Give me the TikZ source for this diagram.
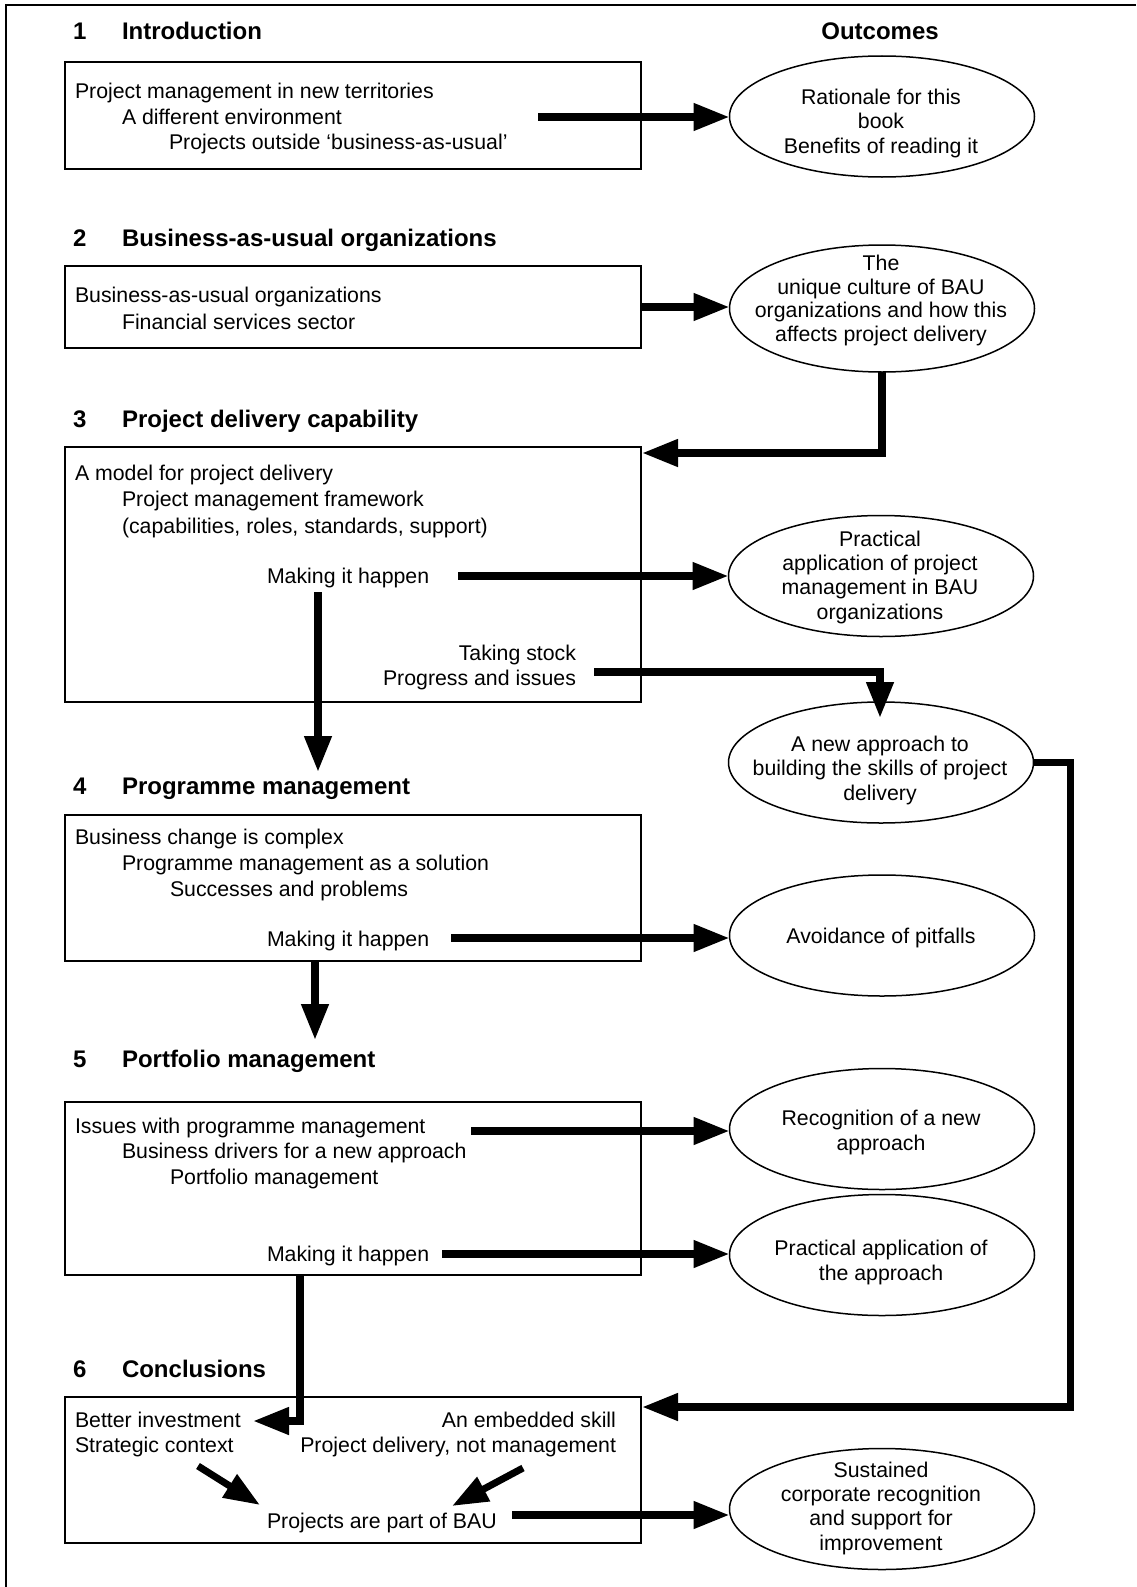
\documentclass[tikz,border=0pt]{standalone}
\usepackage{fontspec}
\setmainfont{Liberation Sans}
\usetikzlibrary{arrows.meta,shapes.geometric}
\begin{document}
\begin{tikzpicture}[x=1pt,y=-1pt,
  every node/.style={inner sep=0pt,outer sep=0pt},
  txt/.style={font=\fontsize{21.3}{25.5}\selectfont,anchor=base west},
  rtxt/.style={font=\fontsize{21.3}{25.5}\selectfont,anchor=base east},
  head/.style={font=\fontsize{24}{28}\selectfont\bfseries,anchor=base west},
  etxt/.style={font=\fontsize{21.3}{24.3}\selectfont,align=center,anchor=base},
  box/.style={draw,line width=1.5pt,minimum width=576pt,anchor=north west},
  ell/.style={draw,ellipse,line width=1.5pt,minimum width=305pt,minimum height=121pt},
  conn/.style={line width=7.5pt,-{Triangle[length=36pt,width=26pt]},line join=miter},
  frame/.style={line width=1.5pt}]
\useasboundingbox (0,0) rectangle (1136,1587);
\draw[frame] (6,1587) -- (6,5) -- (1136,5);

% headings
\node[head] (n1) at (73,40) {1};
\node[head] (h1) at (122,40) {Introduction};
\node[head,anchor=base] (hout) at (880,40) {Outcomes};
\node[head] (n2) at (73,246) {2};
\node[head] (h2) at (122,246) {Business-as-usual organizations};
\node[head] (n3) at (73,427) {3};
\node[head] (h3) at (122,427) {Project delivery capability};
\node[head] (n4) at (73,794) {4};
\node[head] (h4) at (122,794) {Programme management};
\node[head] (n5) at (73,1067) {5};
\node[head] (h5) at (122,1067) {Portfolio management};
\node[head] (n6) at (73,1377) {6};
\node[head] (h6) at (122,1377) {Conclusions};

% boxes
\node[box,minimum height=107pt] (b1) at (65,62) {};
\node[box,minimum height=82pt] (b2) at (65,266) {};
\node[box,minimum height=255pt] (b3) at (65,447) {};
\node[box,minimum height=146pt] (b4) at (65,815) {};
\node[box,minimum height=173pt] (b5) at (65,1102) {};
\node[box,minimum height=146pt] (b6) at (65,1397) {};

% ellipses
\node[ell] (e1) at (882,116.5) {};
\node[ell,minimum height=127pt] (e2) at (882,308.5) {};
\node[ell] (e3) at (881,576) {};
\node[ell] (e4) at (881,762.5) {};
\node[ell] (e5) at (882,935.5) {};
\node[ell] (e6) at (882,1129) {};
\node[ell] (e7) at (882,1255) {};
\node[ell] (e8) at (882,1509) {};

% box texts
\node[txt] (b1a) at (75,98) {Project management in new territories};
\node[txt] (b1b) at (122,124) {A different environment};
\node[txt] (b1c) at (169,149) {Projects outside ‘business-as-usual’};

\node[txt] (b2a) at (75,302) {Business-as-usual organizations};
\node[txt] (b2b) at (122,329) {Financial services sector};

\node[txt] (b3a) at (75,480) {A model for project delivery};
\node[txt] (b3b) at (122,506) {Project management framework};
\node[txt] (b3c) at (122,533) {(capabilities, roles, standards, support)};
\node[txt] (b3m) at (267,583) {Making it happen};
\node[rtxt] (b3t) at (576,660) {Taking stock};
\node[rtxt] (b3p) at (576,685) {Progress and issues};

\node[txt] (b4a) at (75,844) {Business change is complex};
\node[txt] (b4b) at (122,870) {Programme management as a solution};
\node[txt] (b4c) at (170,896) {Successes and problems};
\node[txt] (b4m) at (267,946) {Making it happen};

\node[txt] (b5a) at (75,1133) {Issues with programme management};
\node[txt] (b5b) at (122,1158) {Business drivers for a new approach};
\node[txt] (b5c) at (170,1184) {Portfolio management};
\node[txt] (b5m) at (267,1261) {Making it happen};

\node[txt] (b6a) at (75,1427) {Better investment};
\node[txt] (b6b) at (75,1452) {Strategic context};
\node[rtxt] (b6c) at (616,1427) {An embedded skill};
\node[rtxt] (b6d) at (616,1452) {Project delivery, not management};
\node[txt] (b6e) at (267,1528) {Projects are part of BAU};

% ellipse texts (anchor = baseline of last line)
\node[etxt] (t1) at (881,153) {Rationale for this\\book\\Benefits of reading it};
\node[etxt,font=\fontsize{21.3}{23.5}\selectfont] (t2) at (881,341) {The\\unique culture of BAU\\organizations and how this\\affects project delivery};
\node[etxt] (t3) at (880,619) {Practical\\application of project\\management in BAU\\organizations};
\node[etxt] (t4) at (880,800) {A new approach to\\building the skills of project\\delivery};
\node[etxt] (t5) at (881,943) {Avoidance of pitfalls};
\node[etxt] (t6) at (881,1150) {Recognition of a new\\approach};
\node[etxt] (t7) at (881,1280) {Practical application of\\the approach};
\node[etxt] (t8) at (881,1550) {Sustained\\corporate recognition\\and support for\\improvement};

% connector ends
\coordinate (c1) at (538,117);
\coordinate (c3) at (642,453);
\coordinate (c4) at (458,576);
\coordinate (c5a) at (318,592);
\coordinate (c5b) at (318,772);
\coordinate (c6a) at (594,672);
\coordinate (c6b) at (880,718);
\coordinate (c7) at (642,1407);
\coordinate (c8) at (451,938);
\coordinate (c9a) at (315,961);
\coordinate (c9b) at (315,1040);
\coordinate (c10) at (471,1131);
\coordinate (c11) at (442,1254);
\coordinate (c12a) at (300,1275);
\coordinate (c12b) at (253,1421);
\coordinate (c13a) at (198,1466);
\coordinate (c13b) at (260,1505);
\coordinate (c14a) at (523,1468);
\coordinate (c14b) at (452,1506);
\coordinate (c15) at (512,1515);

% connectors
\draw[conn] (c1) -- (c1 -| e1.west);
\draw[conn] (b2.east) -- (b2.east -| e2.west);
\draw[conn] (e2.south) |- (c3);
\draw[conn] (c4) -- (c4 -| e3.west);
\draw[conn] (c5a) -- (c5b);
\draw[conn] (c6a) -| (c6b);
\draw[conn] (e4.east) -- ++(37,0) |- (c7);
\draw[conn] (c8) -- (c8 -| e5.west);
\draw[conn] (c9a) -- (c9b);
\draw[conn] (c10) -- (c10 -| e6.west);
\draw[conn] (c11) -- (c11 -| e7.west);
\draw[conn] (c12a) |- (c12b);
\draw[conn,line width=7pt] (c13a) -- (c13b);
\draw[conn,line width=7pt] (c14a) -- (c14b);
\draw[conn] (c15) -- (c15 -| e8.west);
\end{tikzpicture}
\end{document}
